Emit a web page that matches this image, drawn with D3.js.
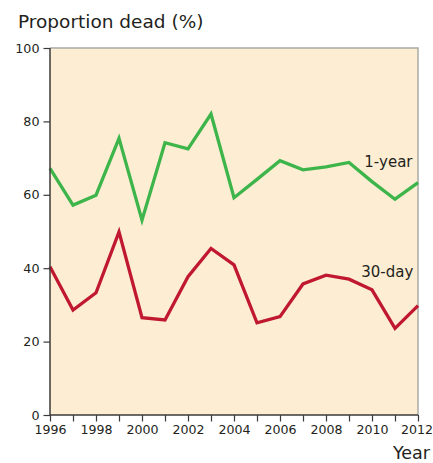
<!DOCTYPE html>
<html>
<head>
<meta charset="utf-8">
<script src="https://cdn.jsdelivr.net/npm/d3@7"></script>
<style>
  html, body { margin: 0; padding: 0; background: #ffffff; }
  svg { display: block; font-family: "DejaVu Sans", sans-serif; }
</style>
</head>
<body>
<svg id="chart" width="433" height="463"></svg>
<script>
const years = [1996,1997,1998,1999,2000,2001,2002,2003,2004,2005,2006,2007,2008,2009,2010,2011,2012];
const oneYear = [67.2,57.2,59.9,75.4,53.1,74.2,72.5,82.0,59.2,64.2,69.3,66.8,67.6,68.8,63.6,58.8,63.3];
const thirtyDay = [40.4,28.6,33.3,49.9,26.5,25.9,37.7,45.4,40.9,25.1,26.8,35.7,38.1,37.0,34.1,23.6,29.8];
const yTicks = [0,20,40,60,80,100];
const xLabelTicks = [1996,1998,2000,2002,2004,2006,2008,2010,2012];
const seriesNames = ["1-year","30-day"];

(function () {
const svg = d3.select("#chart");
const mLeft = 50, mRight = 418, mTop = 48, mBottom = 415;
const x = d3.scaleLinear().domain([1996, 2012]).range([mLeft, mRight]);
const y = d3.scaleLinear().domain([0, 100]).range([mBottom, mTop]);
const textColor = "#231f20";
const fontFam = "DejaVu Sans, sans-serif";

// background panel
svg.append("rect").attr("x", mLeft).attr("y", mTop)
  .attr("width", mRight - mLeft).attr("height", mBottom - mTop)
  .attr("fill", "#fdeed3");
// top and right border
svg.append("path")
  .attr("d", `M${mLeft},${mTop}H${mRight}V${mBottom}`)
  .attr("fill", "none").attr("stroke", "#a9aaa5").attr("stroke-width", 1.5);

// lines
const line = d3.line().x((d, i) => x(years[i])).y(d => y(d));
svg.append("path").datum(oneYear).attr("d", line)
  .attr("fill", "none").attr("stroke", "#3db54a").attr("stroke-width", 3.3)
  .attr("stroke-linejoin", "miter");
svg.append("path").datum(thirtyDay).attr("d", line)
  .attr("fill", "none").attr("stroke", "#c0192f").attr("stroke-width", 3.3)
  .attr("stroke-linejoin", "miter");

// y axis
const yAxis = d3.axisLeft(y).tickValues(yTicks).tickSize(6.5).tickPadding(4);
const gy = svg.append("g").attr("transform", `translate(${mLeft},0)`).call(yAxis);
gy.select(".domain").attr("stroke", "#3a3a3a").attr("stroke-width", 1.5)
  .attr("d", `M0,${mTop}V${mBottom}`);
gy.selectAll(".tick line").attr("stroke", "#3a3a3a").attr("stroke-width", 1.2);
gy.selectAll(".tick text").attr("fill", textColor).attr("font-size", 12.7)
  .attr("font-family", fontFam);

// x axis (ticks every year, labels every two years)
const xAxis = d3.axisBottom(x).tickValues(years).tickSize(6.5).tickPadding(4)
  .tickFormat(d => xLabelTicks.includes(d) ? String(d) : "");
const gx = svg.append("g").attr("transform", `translate(0,${mBottom})`).call(xAxis);
gx.select(".domain").attr("stroke", "#3a3a3a").attr("stroke-width", 1.5)
  .attr("d", `M${mLeft},0H${mRight}`);
gx.selectAll(".tick line").attr("stroke", "#3a3a3a").attr("stroke-width", 1.2);
gx.selectAll(".tick text").attr("fill", textColor).attr("font-size", 12.6)
  .attr("font-family", fontFam);
// keep the last year label inside the picture
gx.selectAll(".tick text").filter(d => d === 2012)
  .attr("text-anchor", "end").attr("dx", 14.5);

// titles
svg.append("text").attr("x", 18).attr("y", 28)
  .attr("font-family", fontFam)
  .attr("font-size", 18.5).attr("fill", textColor).text("Proportion dead (%)");
svg.append("text").attr("x", 430).attr("y", 458.5).attr("text-anchor", "end")
  .attr("font-family", fontFam)
  .attr("font-size", 17.5).attr("fill", textColor).text("Year");

// series labels
svg.append("text").attr("x", 412.5).attr("y", 166.5).attr("text-anchor", "end")
  .attr("font-family", fontFam)
  .attr("font-size", 15).attr("fill", textColor).text(seriesNames[0]);
svg.append("text").attr("x", 413.3).attr("y", 276.5).attr("text-anchor", "end")
  .attr("font-family", fontFam)
  .attr("font-size", 15).attr("fill", textColor).text(seriesNames[1]);
})();
</script>
</body>
</html>
